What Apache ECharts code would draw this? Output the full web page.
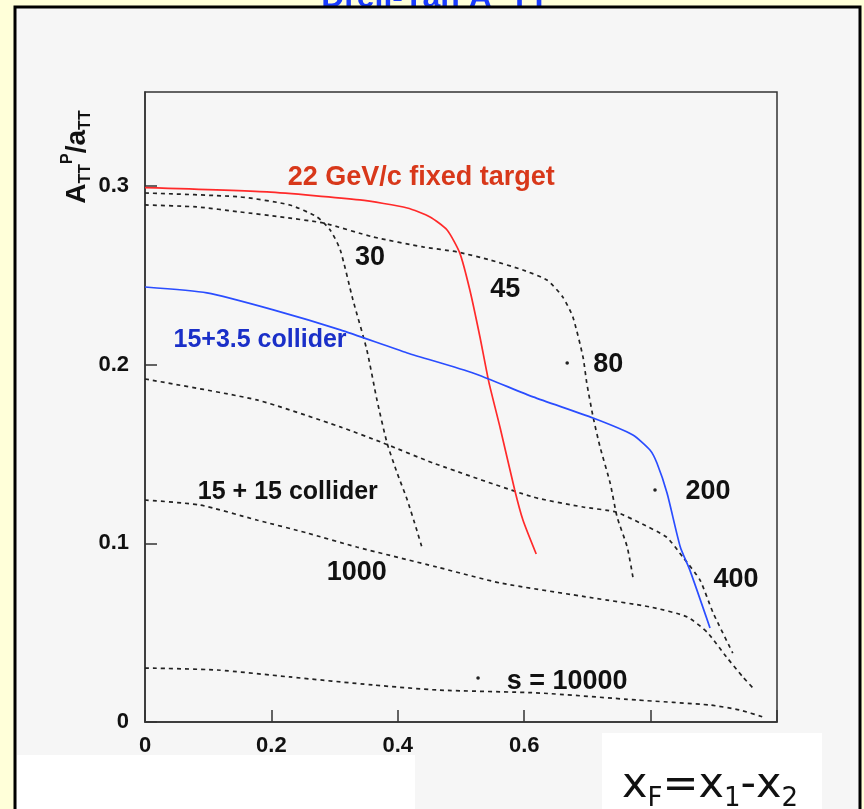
<!DOCTYPE html>
<html>
<head>
<meta charset="utf-8">
<script src="https://cdn.jsdelivr.net/npm/echarts@6/dist/echarts.min.js"></script>
<style>
  html, body { margin: 0; padding: 0; background: #ffffd9; }
  #chart { width: 864px; height: 809px; }
</style>
</head>
<body>
<div id="chart"></div>
<script>
// 曲线数据 (x_F, A_TT^P / a_TT)
const fixedTarget22 = [
    [0, 0.299], [0.193, 0.2966], [0.34, 0.2921], [0.415, 0.2876], [0.451, 0.2826],
    [0.478, 0.2753], [0.498, 0.2625], [0.514, 0.2417], [0.53, 0.2154], [0.544, 0.1903],
    [0.562, 0.1645], [0.585, 0.1298], [0.598, 0.113], [0.619, 0.094]
];
const collider15x35 = [
    [0, 0.2434], [0.098, 0.2401], [0.203, 0.2306], [0.309, 0.2194], [0.415, 0.2065],
    [0.519, 0.1953], [0.614, 0.1819], [0.709, 0.1701], [0.772, 0.1606], [0.799, 0.1522],
    [0.81, 0.1449], [0.826, 0.1281], [0.847, 0.0979], [0.862, 0.0851], [0.894, 0.0526]
];
const s30 = [
    [0, 0.296], [0.15, 0.2938], [0.229, 0.2893], [0.272, 0.2826], [0.293, 0.2753],
    [0.309, 0.2641], [0.329, 0.2362], [0.351, 0.2082], [0.367, 0.1802], [0.383, 0.1561],
    [0.399, 0.1393], [0.415, 0.1242], [0.43, 0.1074], [0.438, 0.0979]
];
const s80 = [
    [0, 0.2893], [0.082, 0.2882], [0.15, 0.2854], [0.214, 0.2826], [0.282, 0.2792],
    [0.361, 0.2714], [0.44, 0.2658], [0.494, 0.263], [0.546, 0.2585], [0.598, 0.2529],
    [0.636, 0.2473], [0.661, 0.2378], [0.677, 0.2266], [0.693, 0.2043], [0.699, 0.1897],
    [0.709, 0.1707], [0.72, 0.1539], [0.736, 0.1337], [0.747, 0.1147], [0.763, 0.0979],
    [0.772, 0.0811]
];
const s400 = [
    [0, 0.1919], [0.177, 0.1802], [0.309, 0.1651], [0.377, 0.1561], [0.456, 0.1449],
    [0.614, 0.1259], [0.693, 0.1203], [0.745, 0.1175], [0.783, 0.1114], [0.825, 0.1035],
    [0.851, 0.0923], [0.878, 0.0795], [0.899, 0.061], [0.93, 0.0386]
];
const s1000 = [
    [0, 0.1242], [0.087, 0.1214], [0.177, 0.113], [0.256, 0.1058], [0.335, 0.0979],
    [0.462, 0.0867], [0.562, 0.0778], [0.709, 0.0694], [0.799, 0.0644], [0.858, 0.0588],
    [0.89, 0.05], [0.92, 0.0364], [0.946, 0.0252], [0.965, 0.0179]
];
const s10000 = [
    [0, 0.0302], [0.114, 0.0291], [0.229, 0.0252], [0.361, 0.0207], [0.462, 0.0179],
    [0.625, 0.0162], [0.778, 0.0123], [0.894, 0.0095], [0.941, 0.0067], [0.978, 0.0028]
];

// 曲线上的注释文字 (数据坐标)
const notes = [
    { text: '22 GeV/c fixed target', at: [0.437, 0.3044], color: '#d8381a', size: 27 },
    { text: '15+3.5 collider', at: [0.182, 0.2138], color: '#1a2fc8', size: 25 },
    { text: '15 + 15 collider', at: [0.226, 0.1287], color: '#111', size: 25 },
    { text: '30', at: [0.356, 0.2597], color: '#111', size: 27 },
    { text: '45', at: [0.57, 0.2417], color: '#111', size: 27 },
    { text: '80', at: [0.733, 0.1998], color: '#111', size: 27 },
    { text: '200', at: [0.891, 0.1287], color: '#111', size: 27 },
    { text: '400', at: [0.935, 0.0795], color: '#111', size: 27 },
    { text: '1000', at: [0.335, 0.0839], color: '#111', size: 27 },
    { text: 's = 10000', at: [0.668, 0.0224], color: '#111', size: 27 }
];
const dots = [[0.668, 0.2009], [0.807, 0.1298], [0.527, 0.0246]];

const chart = echarts.init(document.getElementById('chart'));

function dashed(data) {
    return {
        type: 'line', data: data, smooth: 0.2, symbol: 'none', silent: true,
        lineStyle: { color: '#222', width: 1.7, type: [4, 4] }
    };
}

const labelFont = { color: '#111', fontFamily: 'Liberation Sans', fontWeight: 'bold', fontSize: 22 };

chart.setOption({
    backgroundColor: '#ffffd9',
    animation: false,
    grid: {
        left: 145, top: 92, right: 87, bottom: 87,
        show: true, backgroundColor: '#f6f6f6', borderColor: '#333', borderWidth: 1.5
    },
    xAxis: {
        type: 'value', min: 0, max: 1, interval: 0.2,
        axisLine: { lineStyle: { color: '#333', width: 1.5 } },
        axisTick: { inside: true, length: 12, lineStyle: { color: '#333', width: 1.5 } },
        axisLabel: Object.assign({ margin: 13 }, labelFont),
        splitLine: { show: false }
    },
    yAxis: {
        type: 'value', min: 0, max: 0.3525, interval: 0.1,
        axisLine: { show: true, lineStyle: { color: '#333', width: 1.5 } },
        axisTick: { show: true, inside: true, length: 12, lineStyle: { color: '#333', width: 1.5 } },
        axisLabel: Object.assign({ margin: 16, showMaxLabel: false }, labelFont),
        splitLine: { show: false }
    },
    series: [
        dashed(s30), dashed(s80), dashed(s400), dashed(s1000), dashed(s10000),
        {
            type: 'line', data: fixedTarget22, smooth: 0.2, symbol: 'none', silent: true,
            lineStyle: { color: '#ff2a2a', width: 1.7 }
        },
        {
            type: 'line', data: collider15x35, smooth: 0.2, symbol: 'none', silent: true,
            lineStyle: { color: '#2a4dff', width: 1.7 }
        }
    ]
});

// 注释、坐标轴标题和幻灯片背景
const elements = [
    { type: 'rect', z: -10, shape: { x: 15, y: 7, width: 845, height: 820 },
      style: { fill: '#f6f6f6', stroke: '#000', lineWidth: 3 } },
    { type: 'rect', z: -5, shape: { x: 17, y: 755, width: 398, height: 60 }, style: { fill: '#fff' } },
    { type: 'text', z: -12, x: 435, y: 14,
      style: { text: 'Drell-Yan A_TT', fill: '#1a3cff', font: 'bold 32px "Liberation Sans"',
               align: 'center', verticalAlign: 'bottom' } },
    { type: 'text', z: 50, x: 77, y: 157, rotation: Math.PI / 2,
      style: {
          text: '{m|A}{s|TT}{u|P}{m|/a}{s|TT}', align: 'center', verticalAlign: 'middle',
          rich: {
              m: { fontSize: 28, fontWeight: 'bold', fontFamily: 'Liberation Sans', fill: '#111', lineHeight: 34, verticalAlign: 'middle' },
              s: { fontSize: 16, fontWeight: 'bold', fontFamily: 'Liberation Sans', fill: '#111', lineHeight: 34, verticalAlign: 'bottom' },
              u: { fontSize: 16, fontWeight: 'bold', fontFamily: 'Liberation Sans', fill: '#111', lineHeight: 34, verticalAlign: 'top' }
          }
      } },
    { type: 'rect', z: 100, shape: { x: 602, y: 733, width: 220, height: 80 }, style: { fill: '#fff' } },
    { type: 'text', z: 101, x: 710, y: 786,
      style: {
          text: '{m|x}{s|F}{m|=x}{s|1}{m|-x}{s|2}', align: 'center', verticalAlign: 'middle',
          rich: {
              m: { fontSize: 43, fontFamily: 'DejaVu Sans', fill: '#111', lineHeight: 52, verticalAlign: 'middle' },
              s: { fontSize: 26, fontFamily: 'DejaVu Sans', fill: '#111', lineHeight: 52, verticalAlign: 'bottom' }
          }
      } }
];

notes.forEach(n => {
    const p = chart.convertToPixel({ gridIndex: 0 }, n.at);
    elements.push({
        type: 'text', z: 60, x: p[0], y: p[1],
        style: { text: n.text, fill: n.color, font: 'bold ' + n.size + 'px "Liberation Sans"',
                 align: 'center', verticalAlign: 'middle' }
    });
});
dots.forEach(d => {
    const p = chart.convertToPixel({ gridIndex: 0 }, d);
    elements.push({ type: 'circle', z: 60, shape: { cx: p[0], cy: p[1], r: 1.8 }, style: { fill: '#222' } });
});

chart.setOption({ graphic: { elements: elements } });
</script>
</body>
</html>
